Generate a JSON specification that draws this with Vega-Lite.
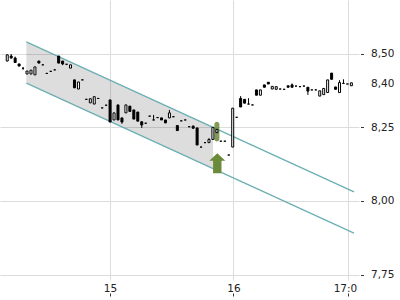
{
  "$schema": "https://vega.github.io/schema/vega-lite/v6.json",
  "width": 359,
  "height": 280,
  "padding": 0,
  "background": "white",
  "config": {"view": {"stroke": null}, "font": "DejaVu Sans"},
  "datasets": {
    "candles": [
      {"i":0,"o":8.475,"h":8.498,"l":8.474,"c":8.496},
      {"i":1,"o":8.492,"h":8.499,"l":8.484,"c":8.485},
      {"i":2,"o":8.485,"h":8.490,"l":8.470,"c":8.470},
      {"i":3,"o":8.465,"h":8.466,"l":8.457,"c":8.458},
      {"i":4,"o":8.451,"h":8.452,"l":8.445,"c":8.451},
      {"i":5,"o":8.431,"h":8.441,"l":8.431,"c":8.441},
      {"i":6,"o":8.431,"h":8.444,"l":8.431,"c":8.444},
      {"i":7,"o":8.428,"h":8.455,"l":8.428,"c":8.455},
      {"i":8,"o":8.475,"h":8.475,"l":8.468,"c":8.468},
      {"i":9,"o":8.462,"h":8.462,"l":8.462,"c":8.462},
      {"i":10,"o":8.433,"h":8.433,"l":8.433,"c":8.433},
      {"i":11,"o":8.440,"h":8.440,"l":8.440,"c":8.440},
      {"i":12,"o":8.445,"h":8.445,"l":8.445,"c":8.445},
      {"i":13,"o":8.492,"h":8.492,"l":8.468,"c":8.468},
      {"i":14,"o":8.475,"h":8.475,"l":8.461,"c":8.465},
      {"i":15,"o":8.464,"h":8.464,"l":8.464,"c":8.464},
      {"i":16,"o":8.451,"h":8.462,"l":8.451,"c":8.462},
      {"i":17,"o":8.411,"h":8.411,"l":8.384,"c":8.384},
      {"i":18,"o":8.380,"h":8.404,"l":8.380,"c":8.404},
      {"i":19,"o":8.411,"h":8.411,"l":8.411,"c":8.411},
      {"i":20,"o":8.345,"h":8.345,"l":8.345,"c":8.345},
      {"i":21,"o":8.333,"h":8.347,"l":8.333,"c":8.347},
      {"i":22,"o":8.329,"h":8.354,"l":8.329,"c":8.354},
      {"i":23,"o":8.348,"h":8.348,"l":8.348,"c":8.348},
      {"i":24,"o":8.316,"h":8.316,"l":8.316,"c":8.316},
      {"i":25,"o":8.325,"h":8.325,"l":8.325,"c":8.325},
      {"i":26,"o":8.343,"h":8.343,"l":8.268,"c":8.268},
      {"i":27,"o":8.275,"h":8.299,"l":8.275,"c":8.299},
      {"i":28,"o":8.326,"h":8.326,"l":8.275,"c":8.275},
      {"i":29,"o":8.282,"h":8.282,"l":8.262,"c":8.268},
      {"i":30,"o":8.299,"h":8.326,"l":8.299,"c":8.326},
      {"i":31,"o":8.322,"h":8.322,"l":8.304,"c":8.304},
      {"i":32,"o":8.309,"h":8.309,"l":8.278,"c":8.278},
      {"i":33,"o":8.302,"h":8.302,"l":8.271,"c":8.271},
      {"i":34,"o":8.269,"h":8.269,"l":8.248,"c":8.258},
      {"i":35,"o":8.264,"h":8.264,"l":8.264,"c":8.264},
      {"i":36,"o":8.288,"h":8.288,"l":8.288,"c":8.288},
      {"i":37,"o":8.275,"h":8.292,"l":8.275,"c":8.275},
      {"i":38,"o":8.283,"h":8.283,"l":8.283,"c":8.283},
      {"i":39,"o":8.282,"h":8.282,"l":8.275,"c":8.275},
      {"i":40,"o":8.275,"h":8.275,"l":8.265,"c":8.265},
      {"i":41,"o":8.282,"h":8.309,"l":8.282,"c":8.299},
      {"i":42,"o":8.286,"h":8.286,"l":8.286,"c":8.286},
      {"i":43,"o":8.256,"h":8.256,"l":8.239,"c":8.239},
      {"i":44,"o":8.272,"h":8.272,"l":8.272,"c":8.272},
      {"i":45,"o":8.275,"h":8.275,"l":8.275,"c":8.275},
      {"i":46,"o":8.252,"h":8.252,"l":8.252,"c":8.252},
      {"i":47,"o":8.254,"h":8.256,"l":8.245,"c":8.247},
      {"i":48,"o":8.248,"h":8.248,"l":8.190,"c":8.190},
      {"i":49,"o":8.183,"h":8.183,"l":8.183,"c":8.183},
      {"i":50,"o":8.198,"h":8.198,"l":8.198,"c":8.198},
      {"i":51,"o":8.198,"h":8.213,"l":8.198,"c":8.209},
      {"i":52,"o":8.209,"h":8.250,"l":8.209,"c":8.250},
      {"i":53,"o":8.232,"h":8.243,"l":8.232,"c":8.243},
      {"i":54,"o":8.203,"h":8.203,"l":8.203,"c":8.203},
      {"i":55,"o":8.203,"h":8.203,"l":8.203,"c":8.203},
      {"i":56,"o":8.156,"h":8.156,"l":8.156,"c":8.156},
      {"i":57,"o":8.183,"h":8.315,"l":8.183,"c":8.315},
      {"i":58,"o":8.284,"h":8.284,"l":8.284,"c":8.284},
      {"i":59,"o":8.348,"h":8.356,"l":8.319,"c":8.319},
      {"i":60,"o":8.345,"h":8.345,"l":8.332,"c":8.332},
      {"i":61,"o":8.329,"h":8.349,"l":8.329,"c":8.329},
      {"i":62,"o":8.326,"h":8.326,"l":8.326,"c":8.326},
      {"i":63,"o":8.377,"h":8.377,"l":8.359,"c":8.359},
      {"i":64,"o":8.359,"h":8.377,"l":8.359,"c":8.377},
      {"i":65,"o":8.394,"h":8.394,"l":8.386,"c":8.386},
      {"i":66,"o":8.403,"h":8.403,"l":8.397,"c":8.397},
      {"i":67,"o":8.380,"h":8.389,"l":8.380,"c":8.389},
      {"i":68,"o":8.379,"h":8.388,"l":8.379,"c":8.388},
      {"i":69,"o":8.380,"h":8.380,"l":8.380,"c":8.380},
      {"i":70,"o":8.379,"h":8.379,"l":8.379,"c":8.379},
      {"i":71,"o":8.391,"h":8.391,"l":8.386,"c":8.386},
      {"i":72,"o":8.394,"h":8.399,"l":8.386,"c":8.386},
      {"i":73,"o":8.390,"h":8.390,"l":8.390,"c":8.390},
      {"i":74,"o":8.388,"h":8.388,"l":8.388,"c":8.388},
      {"i":75,"o":8.390,"h":8.390,"l":8.390,"c":8.390},
      {"i":76,"o":8.386,"h":8.386,"l":8.360,"c":8.373},
      {"i":77,"o":8.377,"h":8.377,"l":8.377,"c":8.377},
      {"i":78,"o":8.377,"h":8.377,"l":8.377,"c":8.377},
      {"i":79,"o":8.356,"h":8.374,"l":8.356,"c":8.374},
      {"i":80,"o":8.361,"h":8.382,"l":8.361,"c":8.382},
      {"i":81,"o":8.368,"h":8.411,"l":8.368,"c":8.411},
      {"i":82,"o":8.434,"h":8.434,"l":8.413,"c":8.413},
      {"i":83,"o":8.387,"h":8.387,"l":8.379,"c":8.379},
      {"i":84,"o":8.368,"h":8.410,"l":8.368,"c":8.402},
      {"i":85,"o":8.399,"h":8.413,"l":8.399,"c":8.399},
      {"i":86,"o":8.397,"h":8.397,"l":8.397,"c":8.397},
      {"i":87,"o":8.391,"h":8.401,"l":8.391,"c":8.401}
    ],
    "fill": [
      {"i":4.84,"up":8.540,"lo":8.400},
      {"i":52.03,"up":8.250,"lo":8.110}
    ],
    "edges": [
      {"edge":"upper","i":4.84,"v":8.540},
      {"edge":"upper","i":87.66,"v":8.031},
      {"edge":"lower","i":4.84,"v":8.400},
      {"edge":"lower","i":87.66,"v":7.891}
    ],
    "signal": [{"i":53,"top":8.269,"bot":8.202}],
    "arrow": [{"i":53.1,"v":8.128}]
  },
  "encoding": {
    "x": {
      "field": "i",
      "type": "quantitative",
      "scale": {"domain": [-0.565, 87.66], "nice": false, "zero": false},
      "axis": {
        "values": [25.98, 57.19, 86.19],
        "labelExpr": "datum.value < 40 ? '15' : datum.value < 70 ? '16' : '17:0'",
        "title": null,
        "grid": true,
        "gridColor": "#dcdcdc",
        "domain": false,
        "offset": 13,
        "tickSize": 3,
        "tickColor": "#333",
        "labelPadding": -8,
        "labelBaseline": "middle",
        "labelFontSize": 10.5,
        "labelColor": "#222",
        "labelAlign": {"condition": {"test": "datum.value > 80", "value": "left"}, "value": "center"},
        "labelOffset": {"condition": {"test": "datum.value > 80", "value": -15}, "value": 0}
      }
    }
  },
  "layer": [
    {
      "data": {"name": "fill"},
      "mark": {"type": "area", "color": "#000000", "opacity": 0.135},
      "encoding": {
        "y": {
          "field": "up", "type": "quantitative",
          "scale": {"domain": [7.7319, 8.6821], "nice": false, "zero": false},
          "axis": {
            "orient": "right",
            "values": [7.75, 8, 8.25, 8.4, 8.5],
            "title": null,
            "grid": true,
            "gridColor": "#dcdcdc",
            "domain": false,
            "tickSize": 3,
            "offset": 1.5,
            "tickColor": "#333",
            "labelPadding": 7,
            "labelFontSize": 10.5,
            "labelColor": "#222",
            "labelExpr": "replace(format(datum.value, '.2f'), '.', ',')",
            "gridOpacity": {"condition": {"test": "abs(datum.value - 8.4) < 0.001", "value": 0}, "value": 1},
            "tickOpacity": {"condition": {"test": "abs(datum.value - 8.4) < 0.001", "value": 0}, "value": 1}
          }
        },
        "y2": {"field": "lo"}
      }
    },
    {
      "data": {"name": "edges"},
      "mark": {"type": "line", "color": "#6aaeb4", "strokeWidth": 1.2},
      "encoding": {
        "y": {"field": "v", "type": "quantitative", "scale": {"domain": [7.7319, 8.6821], "nice": false, "zero": false}, "axis": {"title": null}},
        "detail": {"field": "edge"}
      }
    },
    {
      "data": {"name": "signal"},
      "mark": {"type": "bar", "width": 5, "cornerRadius": 2.5, "color": "#6b8a3a", "opacity": 0.85},
      "encoding": {
        "y": {"field": "top", "type": "quantitative", "scale": {"domain": [7.7319, 8.6821], "nice": false, "zero": false}, "axis": {"title": null}},
        "y2": {"field": "bot"}
      }
    },
    {
      "data": {"name": "candles"},
      "mark": {"type": "rule", "color": "#000000", "strokeWidth": 1},
      "encoding": {
        "y": {"field": "l", "type": "quantitative", "scale": {"domain": [7.7319, 8.6821], "nice": false, "zero": false}, "axis": {"title": null}},
        "y2": {"field": "h"}
      }
    },
    {
      "data": {"name": "candles"},
      "mark": {"type": "bar", "width": 2, "stroke": "#000000", "strokeWidth": 1},
      "encoding": {
        "y": {"field": "o", "type": "quantitative", "scale": {"domain": [7.7319, 8.6821], "nice": false, "zero": false}, "axis": {"title": null}},
        "y2": {"field": "c"},
        "fill": {"condition": {"test": "datum.c > datum.o", "value": "#ffffff"}, "value": "#000000"}
      }
    },
    {
      "data": {"name": "arrow"},
      "mark": {
        "type": "point",
        "filled": true,
        "opacity": 1,
        "color": "#6b8a3a",
        "size": 400,
        "shape": "M0,-1L0.8,-0.26L0.42,-0.26L0.42,1L-0.42,1L-0.42,-0.26L-0.8,-0.26Z"
      },
      "encoding": {
        "y": {"field": "v", "type": "quantitative", "scale": {"domain": [7.7319, 8.6821], "nice": false, "zero": false}, "axis": {"title": null}}
      }
    }
  ]
}
